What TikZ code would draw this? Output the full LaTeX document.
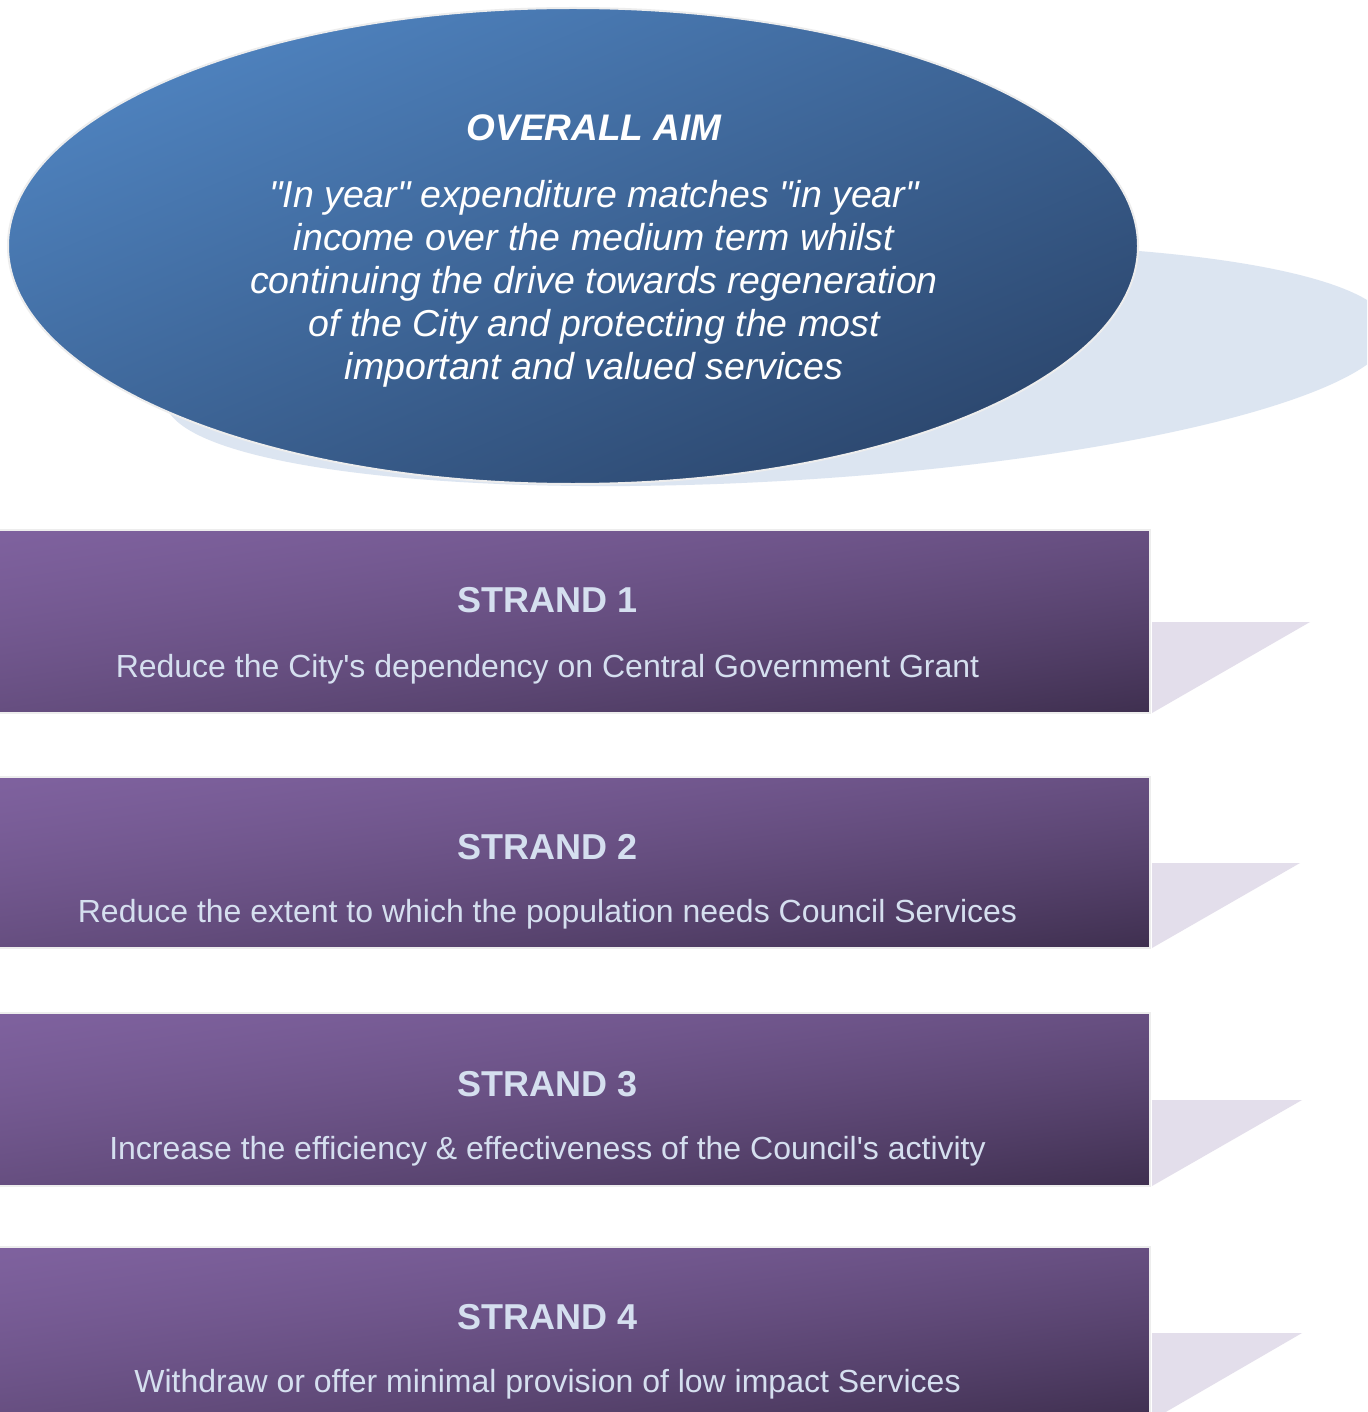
\documentclass[tikz,border=0pt]{standalone}
\usepackage{fontspec}
\newfontfamily\arialfont{Liberation Sans}
\usetikzlibrary{shapes.geometric}

% Diagonal gradients: light at the top left, dark at the bottom right.
% Input x y (bp); the path's bounding box maps to the square 25..75.
\pgfdeclarefunctionalshading{aimshade}{\pgfpoint{0bp}{0bp}}{\pgfpoint{100bp}{100bp}}{}{%
  75 exch sub exch 25 sub add 100 div
  dup -0.18 mul 0.33 add exch
  dup -0.31 mul 0.55 add exch
  -0.42 mul 0.80 add
}
% same direction, eased so the light part reaches further in
\pgfdeclarefunctionalshading{strandshade}{\pgfpoint{0bp}{0bp}}{\pgfpoint{100bp}{100bp}}{}{%
  75 exch sub exch 25 sub add 100 div
  dup dup mul add 2 div
  dup -0.255 mul 0.50 add exch
  dup -0.20 mul 0.385 add exch
  -0.315 mul 0.625 add
}

\definecolor{shadowblue}{HTML}{DCE5F1}
\definecolor{tabshade}{HTML}{E3DEEB}
\definecolor{rimgray}{HTML}{EDEDED}
\definecolor{paletext}{HTML}{D5DFEF}

\tikzset{
  aimnode/.style={ellipse, shade, shading=aimshade, draw=rimgray, line width=2pt,
    minimum width=1130pt, minimum height=476pt, inner sep=0pt},
  aimtitle/.style={anchor=base, text=white, inner sep=0pt,
    font=\arialfont\fontsize{37}{43}\selectfont\bfseries\itshape},
  aimbody/.style={align=center, text=white, inner sep=0pt,
    font=\arialfont\fontsize{37.5}{43}\selectfont\itshape},
  strandbox/.style={rectangle, shade, shading=strandshade, draw=rimgray, line width=2.5pt,
    minimum width=1206pt, minimum height=#1, inner sep=0pt},
  strandhead/.style={anchor=base, text=paletext, inner sep=0pt,
    font=\arialfont\fontsize{36}{43}\selectfont\bfseries},
  stranddesc/.style={anchor=base, text=paletext, inner sep=0pt,
    font=\arialfont\fontsize{32}{38}\selectfont},
}

\begin{document}
\begin{tikzpicture}[x=1pt, y=-1pt]
  \useasboundingbox (0,0) rectangle (1367,1412);
  \clip (0,0) rectangle (1367,1412);
  \fill[white] (0,0) rectangle (1367,1412);

  % aim: cast shadow and ellipse
  \fill[shadowblue, rotate around={3.3:(778,365)}] (778,365) ellipse [x radius=614, y radius=116];
  \node[aimnode] (aim) at (573,246) {};
  \node[aimtitle] (aimhead) at (594,141) {OVERALL AIM};
  \node[aimbody] (aimtext) at (594,284.3)
    {"In year" expenditure matches "in year"\\
     income over the medium term whilst\\
     continuing the drive towards regeneration\\
     of the City and protecting the most\\
     important and valued services};

  % tabs to the right of each strand
  \fill[tabshade] (1152,622)  -- (1310,622)  -- (1152,713)  -- cycle;
  \fill[tabshade] (1152,863)  -- (1300,863)  -- (1152,948)  -- cycle;
  \fill[tabshade] (1152,1100) -- (1302,1100) -- (1152,1186) -- cycle;
  \fill[tabshade] (1152,1333) -- (1302,1333) -- (1152,1420) -- cycle;

  % strands
  \node[strandbox=183pt] (s1) at (547,621.5) {};
  \node[strandbox=171pt] (s2) at (547,862.5) {};
  \node[strandbox=173pt] (s3) at (547,1099.5) {};
  \node[strandbox=173pt] (s4) at (547,1333.5) {};

  \node[strandhead] (s1head) at (547.5,612.5) {STRAND 1};
  \node[stranddesc] (s1text) at (547.5,677) {Reduce the City's dependency on Central Government Grant};
  \node[strandhead] (s2head) at (547.5,859.5) {STRAND 2};
  \node[stranddesc] (s2text) at (547.5,922) {Reduce the extent to which the population needs Council Services};
  \node[strandhead] (s3head) at (547.5,1096.5) {STRAND 3};
  \node[stranddesc] (s3text) at (547.5,1159) {Increase the efficiency \& effectiveness of the Council's activity};
  \node[strandhead] (s4head) at (547.5,1329.5) {STRAND 4};
  \node[stranddesc] (s4text) at (547.5,1392) {Withdraw or offer minimal provision of low impact Services};
\end{tikzpicture}
\end{document}
